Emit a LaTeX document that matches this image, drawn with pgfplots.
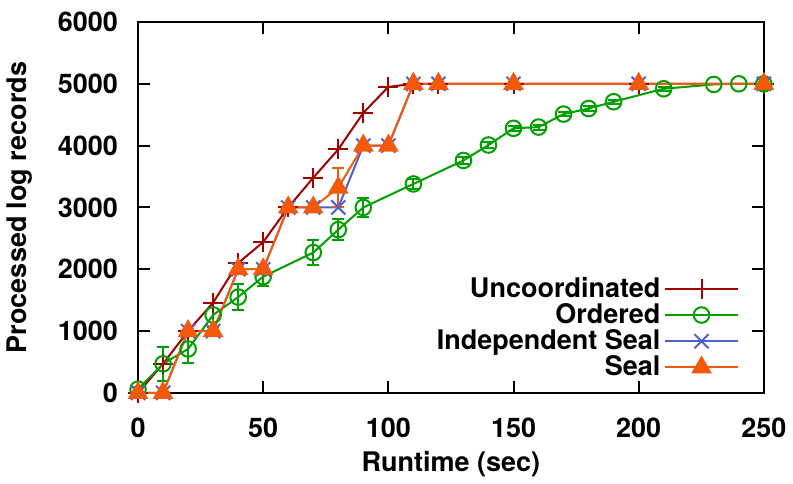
\documentclass[border=0pt]{standalone}
\usepackage{fontspec}
\setmainfont{TeX Gyre Heros}
\usepackage{pgfplots}
\pgfplotsset{compat=1.18}

\definecolor{uncoord}{HTML}{A00000}
\definecolor{ordered}{HTML}{00A000}
\definecolor{indep}{HTML}{5060D0}
\definecolor{seal}{HTML}{F25A0A}

\newcommand{\chartfont}{\fontsize{13.5}{15}\selectfont\bfseries}

\begin{document}
\begin{tikzpicture}
\begin{axis}[
    width=313pt, height=185.5pt, scale only axis,
    xmin=0, xmax=250, ymin=0, ymax=6000,
    xtick={0,50,...,250}, ytick={0,1000,...,6000},
    axis line style={line width=1.2pt},
    tick style={line width=1pt, black},
    major tick length=6pt,
    tick align=inside,
    font=\chartfont,
    tick label style={font=\chartfont},
    yticklabel style={xshift=-6.5pt},
    xticklabel style={yshift=-9pt},
    ylabel style={yshift=6pt},
    xlabel style={yshift=0pt},
    /pgf/number format/assume math mode=true,
    /pgf/number format/1000 sep={},
    xlabel={Runtime (sec)}, ylabel={Processed log records},
    clip=false,
    legend cell align=right,
    legend plot pos=right,
    legend style={draw=none, fill=none, at={(0.97,0.015)}, anchor=south east,
        row sep=-2.4pt, font=\chartfont},
    legend image code/.code={\draw[mark repeat=2,mark phase=2] plot coordinates {(0cm,0cm) (0.635cm,0cm) (1.27cm,0cm)};},
    error bars/error bar style={line width=1pt},
    error bars/error mark options={rotate=90, mark size=3pt, line width=1pt},
]
\addplot[uncoord, line width=1pt, mark=+, mark size=5pt] coordinates {
    (0,0) (10,470) (20,1000) (30,1460) (40,2100) (50,2440) (60,3000) (70,3480)
    (80,3940) (90,4530) (100,4950) (110,5000) (120,5000) (150,5000) (200,5000) (250,5000)
};
\addlegendentry{Uncoordinated}

\addplot[ordered, line width=1pt, mark=o, mark size=3.9pt,
    error bars/.cd, y dir=both, y explicit] table[x=x, y=y, y error=e] {
x y e
0 60 40
10 470 270
20 710 220
30 1260 200
40 1550 210
50 1880 150
70 2270 200
80 2640 170
90 3000 160
110 3380 80
130 3760 60
140 4010 50
150 4280 40
160 4300 40
170 4510 30
180 4600 40
190 4710 30
210 4920 30
230 4990 0
240 5000 0
250 5000 0
};
\addlegendentry{Ordered}

\addplot[indep, line width=1pt, mark=x, mark size=5pt] coordinates {
    (0,0) (10,0) (20,1000) (30,1000) (40,2000) (50,2000) (60,3000) (70,3000)
    (80,3000) (90,4000) (100,4000) (110,5000) (120,5000) (150,5000) (200,5000) (250,5000)
};
\addlegendentry{Independent Seal}

\addplot[seal, line width=1pt, mark=triangle*, mark size=5pt,
    error bars/.cd, y dir=both, y explicit] table[x=x, y=y, y error=e] {
x y e
0 0 0
10 0 0
20 1000 0
30 1000 0
40 2000 0
50 2000 0
60 3000 0
70 3000 0
80 3320 320
90 4000 0
100 4000 0
110 5000 0
120 5000 0
150 5000 0
200 5000 0
250 5000 0
};
\addlegendentry{Seal}
\end{axis}
% keep a little white space above the plot, as in the reference
\path ([yshift=11pt]current axis.north);
\end{tikzpicture}
\end{document}
